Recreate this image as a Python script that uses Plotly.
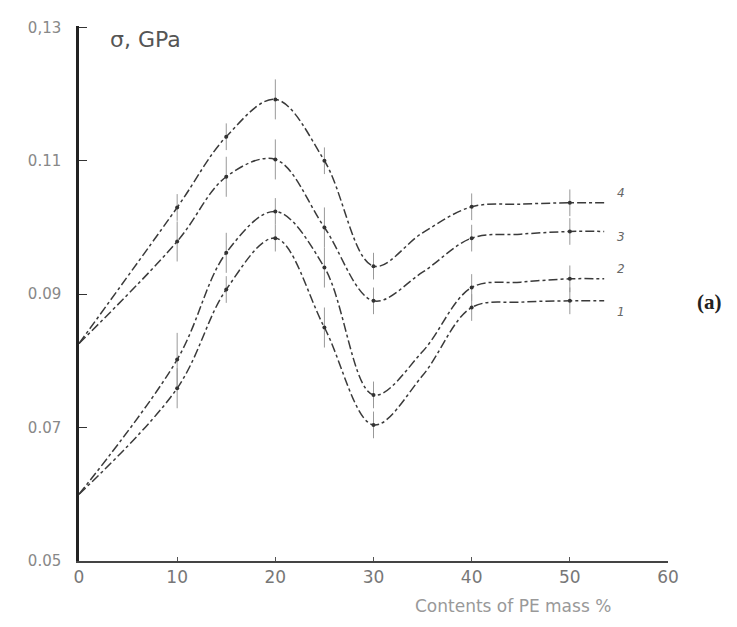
import plotly.graph_objects as go

# Contents of PE, mass %
x_pts = [0, 10, 15, 20, 25, 30, 35, 40, 45, 50, 53.5]
curve1 = [0.0600, 0.0759, 0.0907, 0.0984, 0.0850, 0.0704, 0.0778, 0.0880, 0.0888, 0.0890, 0.0890]
curve2 = [0.0600, 0.0802, 0.0962, 0.1024, 0.0940, 0.0749, 0.0814, 0.0910, 0.0918, 0.0923, 0.0923]
curve3 = [0.0826, 0.0979, 0.1076, 0.1102, 0.1000, 0.0890, 0.0933, 0.0984, 0.0990, 0.0994, 0.0994]
curve4 = [0.0826, 0.1030, 0.1136, 0.1192, 0.1100, 0.0942, 0.0992, 0.1031, 0.1035, 0.1037, 0.1037]
curve_names = ["1", "2", "3", "4"]
label_y = [0.0873, 0.0937, 0.0986, 0.1052]

# measured points with scatter (error bars)
x_meas = [10, 15, 20, 25, 30, 40, 50]
meas_idx = [1, 2, 3, 4, 5, 7, 9]
err1 = [0.003, 0.002, 0.002, 0.003, 0.002, 0.002, 0.002]
err2 = [0.004, 0.003, 0.002, 0.003, 0.002, 0.002, 0.002]
err3 = [0.003, 0.003, 0.003, 0.003, 0.002, 0.002, 0.002]
err4 = [0.002, 0.002, 0.003, 0.002, 0.002, 0.002, 0.002]

y_tickvals = [0.05, 0.07, 0.09, 0.11, 0.13]
y_ticktext = ["0.05", "0.07", "0.09", "0.11", "0,13"]
x_tickvals = [0, 10, 20, 30, 40, 50, 60]

fig = go.Figure()
curves = [curve1, curve2, curve3, curve4]
errs = [err1, err2, err3, err4]
for name, ys, er in zip(curve_names, curves, errs):
    fig.add_trace(go.Scatter(
        x=x_pts, y=ys, mode="lines",
        line=dict(color="#3a3a3a", width=1.5, dash="dashdot", shape="spline", smoothing=1.0),
        showlegend=False, hoverinfo="skip"))
    fig.add_trace(go.Scatter(
        x=x_meas, y=[ys[i] for i in meas_idx], mode="markers",
        marker=dict(color="#333", size=4),
        error_y=dict(type="data", array=er, visible=True, color="#999", thickness=1, width=0),
        showlegend=False))

for name, ly in zip(curve_names, label_y):
    fig.add_annotation(x=55.2, y=ly, text="<i>" + name + "</i>", showarrow=False, xanchor="center",
                       font=dict(size=12, color="#666", family="DejaVu Sans"))

fig.add_annotation(xref="paper", yref="paper", x=0.05, y=0.975, text="σ, GPa", showarrow=False,
                   xanchor="left", yanchor="middle", font=dict(size=22, color="#555", family="DejaVu Sans"))
fig.add_annotation(x=44.2, xref="x", yref="paper", y=-0.084, text="Contents of PE mass %", showarrow=False,
                   xanchor="center", yanchor="middle",
                   font=dict(size=17, color="#999", family="DejaVu Sans"))
fig.add_annotation(xref="paper", yref="paper", x=1.045, y=0.484, text="<b>(a)</b>", showarrow=False,
                   xanchor="left", yanchor="middle", font=dict(size=21, color="#222", family="Liberation Serif"))

fig.update_xaxes(range=[0, 60], tickvals=x_tickvals, ticks="inside", ticklen=4, tickcolor="#555",
                 showgrid=False, zeroline=False, showline=True, linecolor="#444", linewidth=1.5,
                 tickfont=dict(size=17, color="#777", family="DejaVu Sans"))
fig.update_yaxes(range=[0.05, 0.1302], tickvals=y_tickvals, ticktext=y_ticktext, ticks="inside",
                 ticklen=8, tickcolor="#333", showgrid=False, zeroline=False, showline=True,
                 linecolor="#222", linewidth=2.5, ticklabelstandoff=12,
                 tickfont=dict(size=15, color="#888", family="DejaVu Sans"))

fig.update_layout(width=737, height=627, margin=dict(l=71, r=77, t=18, b=74),
                  plot_bgcolor="white", paper_bgcolor="white")

fig.write_html("out.html")
